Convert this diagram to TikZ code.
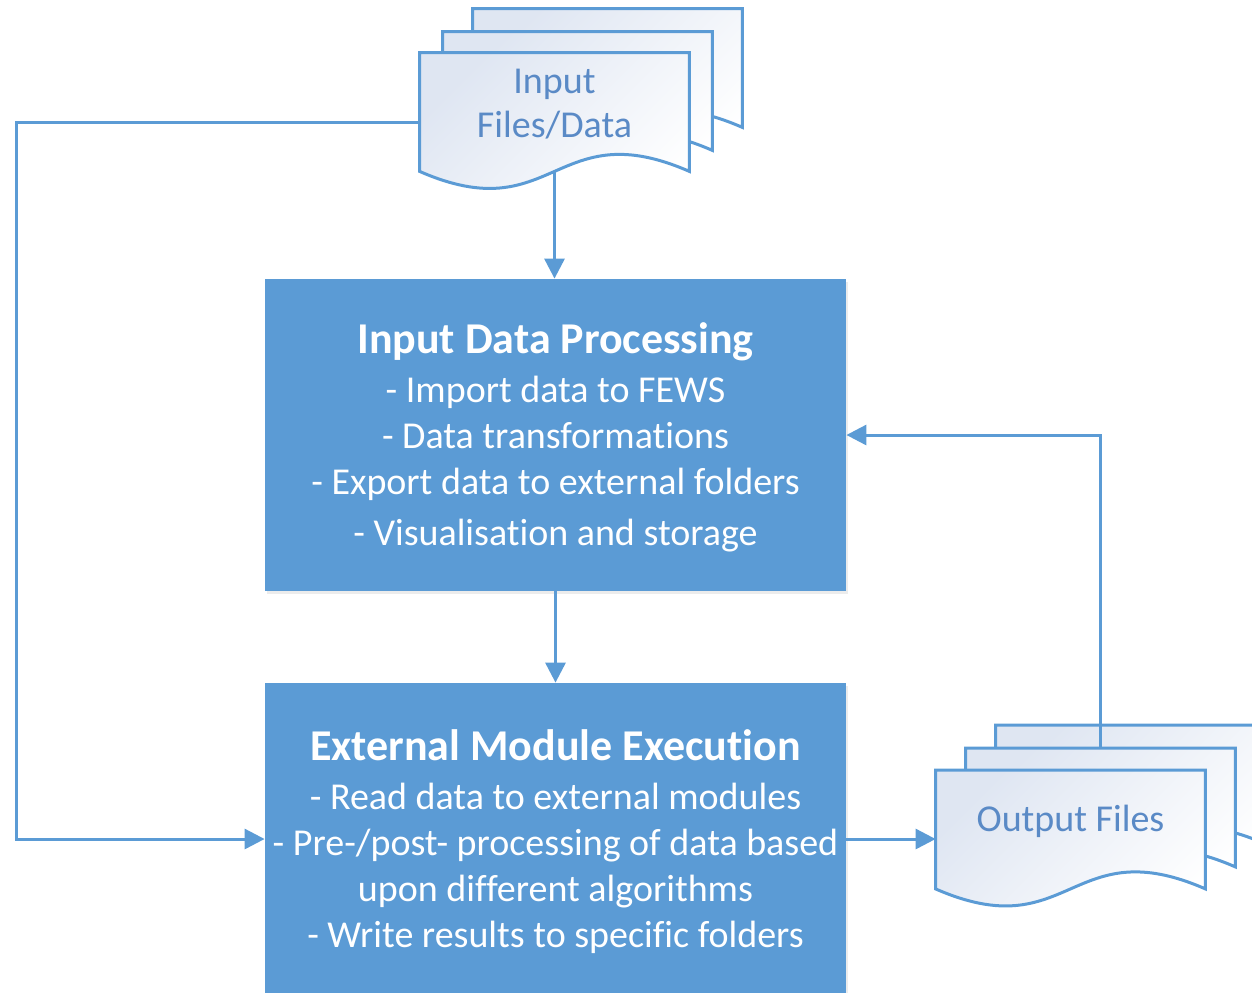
\documentclass[tikz,border=0pt]{standalone}
\usepackage{fontspec}
\setmainfont{Carlito}[Ligatures=NoCommon]
\usetikzlibrary{arrows.meta,calc,shadows}

\definecolor{boxblue}{HTML}{5B9BD5}
\definecolor{linkblue}{HTML}{5B9BD5}
\definecolor{doctext}{HTML}{5A8AC6}
\definecolor{doctint}{HTML}{DFE6F2}

\tikzset{
  conn/.style={draw=linkblue, line width=1.5pt, -{Triangle[length=10pt,width=10pt]}},
  procbox/.style={rectangle, fill=boxblue, minimum width=290.5pt, minimum height=156pt,
    inner sep=0pt, drop shadow={opacity=0.15, shadow xshift=1pt, shadow yshift=-1.5pt}},
  proctxt/.style={text=white, align=center, font=\fontsize{19}{23}\selectfont},
  docbox/.style={rectangle, minimum width=134.5pt, minimum height=59pt, inner sep=0pt},
  doctxt/.style={text=doctext, align=center, font=\fontsize{19}{22}\selectfont},
  docedge/.style={draw=linkblue, line width=1.5pt, left color=doctint, right color=white,
    shading angle=45},
}

% flowchart "document" outline over the extent of a named node
\newcommand\docshape[1]{%
  \path[docedge] (#1.north west) -- (#1.north east) -- (#1.south east)
    .. controls ($(#1.south)+(0,-59)$) and ($(#1.south)+(0,59)$) .. (#1.south west) -- cycle;}

\begin{document}
\begin{tikzpicture}[x=0.5pt, y=-0.5pt]
  \useasboundingbox (0,0) rectangle (1252,992);
  \clip (0,0) rectangle (1252,992);

  % extents of the stacked documents
  \node[docbox] (inB) at (607.5,68) {};
  \node[docbox] (inM) at (577.5,91) {};
  \node[docbox] (inF) at (554.5,112) {};
  \node[docbox] (outB) at (1130.5,784.5) {};
  \node[docbox] (outM) at (1100.5,807.5) {};
  \node[docbox] (outF) at (1070.5,829.5) {};
  \coordinate (loopL) at (16,122);

  % input stack
  \docshape{inB}
  \docshape{inM}
  \docshape{inF}
  \node[doctxt] (inT) at ([yshift=4pt]inF.center) {Input\\Files/Data};

  % processing boxes
  \node[procbox] (box1) at (555.5,435) {};
  \node[proctxt] (box1T) at ([yshift=-1pt]box1.center) {%
    {\bfseries\fontsize{22}{23}\selectfont Input Data Processing}\\[1.5pt]
    - Import data to FEWS\\
    - Data transformations\\
    - Export data to external folders\\[2.5pt]
    - Visualisation and storage};

  \node[procbox] (box2) at (555.5,839) {};
  \node[proctxt] (box2T) at ([yshift=-1.5pt]box2.center) {%
    {\bfseries\fontsize{22}{23}\selectfont External Module Execution}\\[1.5pt]
    - Read data to external modules\\
    - Pre-/post- processing of data based\\
    upon different algorithms\\
    - Write results to specific folders};

  % output stack, with the feedback line passing over the rearmost sheet
  \docshape{outB}
  \draw[conn] (outM.north) |- (box1.east);
  \docshape{outM}
  \docshape{outF}
  \node[doctxt] (outT) at ([yshift=4pt]outF.center) {Output Files};

  % connectors
  \draw[conn] (inF.south) -- (inF.south |- box1.north);
  \draw[conn] ([yshift=-5pt]inF.west) -- (loopL) |- (box2.west);
  \draw[conn] (box1.south) -- (box2.north);
  \draw[conn] (box2.east) -- (box2.east -| outF.west);
\end{tikzpicture}
\end{document}
